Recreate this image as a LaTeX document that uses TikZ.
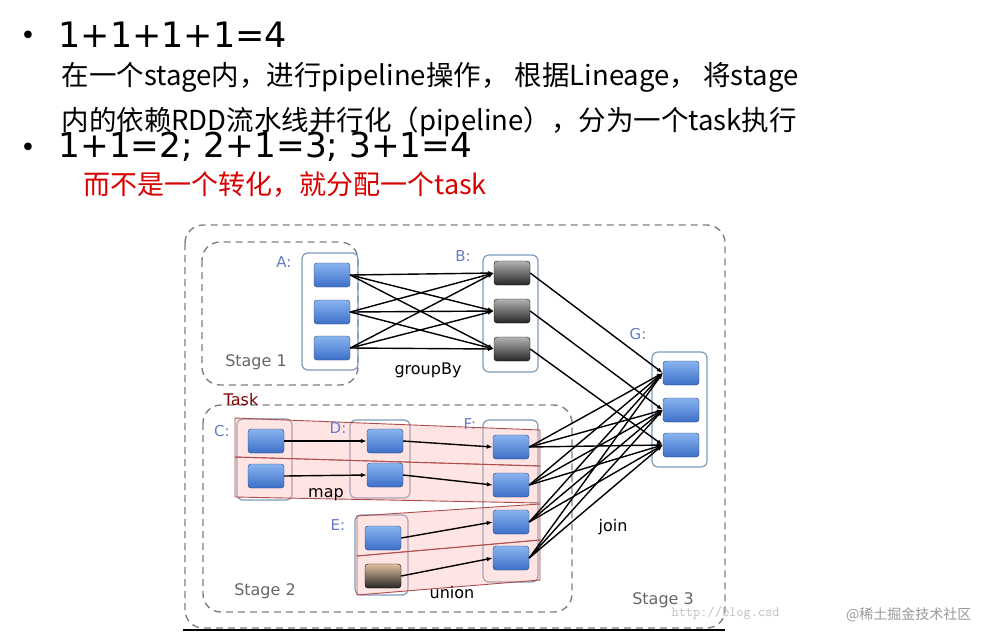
\documentclass[tikz,border=0pt]{standalone}
\usepackage{fontspec}
\setmainfont{DejaVu Sans}
\newfontfamily\cjk{Noto Sans CJK SC}
\newfontfamily\lab{DejaVu Sans}
\usetikzlibrary{arrows.meta}
\definecolor{bl1}{HTML}{8AB4F0}
\definecolor{bl2}{HTML}{3D6FC8}
\definecolor{ct}{HTML}{7F9AB8}
\begin{document}
\begin{tikzpicture}[x=1pt,y=-1pt,
  blk/.style={draw=bl2!60!black,rounded corners=3pt,minimum width=36pt,minimum height=24pt,inner sep=0pt,top color=bl1,bottom color=bl2},
  dk/.style={blk,draw=black,top color=gray!60,bottom color=black!85},
  br/.style={blk,draw=black,top color=brown!50,bottom color=black!85},
  cont/.style={draw=ct,rounded corners=6pt,line width=1.2pt},
  stg/.style={draw=gray,line width=1.4pt,dash pattern=on 7pt off 5pt,rounded corners=18pt},
  lb/.style={font=\lab\fontsize{15}{15}\selectfont,text=ct!80!blue},
  gl/.style={font=\lab\fontsize{16}{16}\selectfont,text=gray!80!black},
  ar/.style={-{Latex[length=6pt]},line width=1.4pt},
  band/.style={draw=red!55!black!70,fill=red!30,fill opacity=0.35,line width=0.9pt}]
\useasboundingbox (0,0) rectangle (981,633);
\fill[white] (0,0) rectangle (981,633);
% text
\node[font=\fontsize{26}{26}\selectfont] (b1) at (28,38) {•};
\node[anchor=west,font=\fontsize{35}{35}\selectfont] (t1) at (55,35) {1+1+1+1=4};
\node[anchor=west,font=\cjk\fontsize{27.5}{27.5}\selectfont] (t2) at (58,77) {在一个stage内，进行pipeline操作， 根据Lineage， 将stage};
\node[anchor=west,font=\cjk\fontsize{27.5}{27.5}\selectfont] (t3) at (58,122) {内的依赖RDD流水线并行化（pipeline），分为一个task执行};
\node[font=\fontsize{26}{26}\selectfont] (b2) at (28,150) {•};
\node[anchor=west,font=\fontsize{34.3}{34.3}\selectfont] (t4) at (55,147) {1+1=2; 2+1=3; 3+1=4};
\node[anchor=west,font=\cjk\fontsize{27}{27}\selectfont,text=red!85!black] (t5) at (80,185) {而不是一个转化，就分配一个task};
% stages
\draw[stg] (185,225) rectangle (725,628);
\draw[stg] (202,242) rectangle (358,385);
\draw[stg] (203,405) rectangle (572,612);
\draw[line width=1.2pt] (183,630) -- (725,630);
% containers
\draw[cont] (302,253) rectangle (358,370);
\draw[cont] (483,255) rectangle (538,372);
\draw[cont] (652,352) rectangle (707,467);
\draw[cont] (237,419) rectangle (292,500);
\draw[cont] (350,420) rectangle (410,498);
\draw[cont] (483,420) rectangle (538,582);
\draw[cont] (355,515) rectangle (408,595);
% bands
\draw[band] (235,418) -- (540,430) -- (540,466) -- (235,457) -- cycle;
\draw[band] (235,457) -- (540,466) -- (540,503) -- (235,497) -- cycle;
\draw[band] (357,516) -- (540,504) -- (540,540) -- (357,556) -- cycle;
\draw[band] (357,556) -- (540,540) -- (540,580) -- (357,595) -- cycle;
% blocks
\foreach \n/\y in {1/275,2/312,3/348} \node[blk] (A\n) at (332,\y) {};
\foreach \n/\y in {1/273,2/311,3/349} \node[dk] (B\n) at (512,\y) {};
\foreach \n/\y in {1/373,2/410,3/445} \node[blk] (G\n) at (681,\y) {};
\foreach \n/\y in {1/441,2/476} \node[blk] (C\n) at (266,\y) {};
\foreach \n/\y in {1/441,2/475} \node[blk] (D\n) at (385,\y) {};
\foreach \n/\y in {1/447,2/485,3/522,4/558} \node[blk] (F\n) at (511,\y) {};
\node[blk] (E1) at (383,538) {};
\node[br] (E2) at (383,576) {};
% edges
\foreach \i in {1,2,3} \foreach \j in {1,2,3} \draw[ar] (A\i.east) -- (B\j.west);
\foreach \i in {1,2,3} \draw[ar] (B\i.east) -- (G\i.west);
\foreach \i in {1,2,3,4} \foreach \j in {1,2,3} \draw[ar] (F\i.east) -- (G\j.west);
\foreach \i in {1,2} {\draw[ar] (C\i.east) -- (D\i.west); \draw[ar] (D\i.east) -- (F\i.west);}
\draw[ar] (E1.east) -- (F3.west);
\draw[ar] (E2.east) -- (F4.west);
% labels
\node[lb] (lA) at (284,262) {A:};
\node[lb] (lB) at (463,256) {B:};
\node[lb] (lG) at (638,334) {G:};
\node[lb] (lC) at (222,431) {C:};
\node[lb] (lD) at (338,428) {D:};
\node[lb] (lF) at (470,424) {F:};
\node[lb] (lE) at (338,525) {E:};
\node[gl] (s1) at (256,362) {Stage 1};
\node[gl] (s2) at (265,591) {Stage 2};
\node[gl] (s3) at (663,600) {Stage 3};
\node[font=\lab\fontsize{16}{16}\selectfont] (gb) at (428,370) {groupBy};
\node[font=\lab\fontsize{16}{16}\selectfont,text=red!50!black] (tk) at (241,400) {Task};
\node[font=\lab\fontsize{16}{16}\selectfont] (mp) at (326,495) {map};
\node[font=\lab\fontsize{16}{16}\selectfont] (jn) at (613,527) {join};
\node[font=\lab\fontsize{16}{16}\selectfont] (un) at (452,593) {union};
\node[anchor=west,font=\ttfamily\fontsize{14}{14}\selectfont,text=gray!50] (url) at (668,613) {http://blog.csd};
\node[anchor=east,font=\cjk\fontsize{14}{14}\selectfont,text=gray!80] (wm) at (975,615) {@稀土掘金技术社区};
\end{tikzpicture}
\end{document}
